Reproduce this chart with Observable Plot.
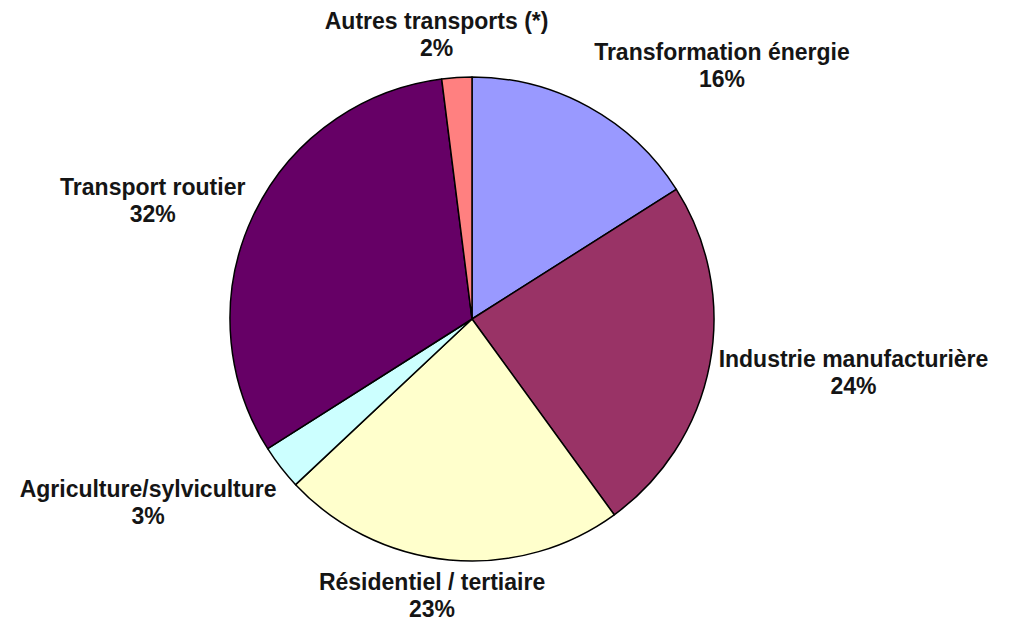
<!DOCTYPE html>
<html><head><meta charset="utf-8">
<script src="https://cdn.jsdelivr.net/npm/d3@7"></script>
<script src="https://cdn.jsdelivr.net/npm/@observablehq/plot@0.6"></script>
<style>html,body{margin:0;padding:0;background:#fff;} svg{display:block;}</style>
</head><body><div id="chart"></div>
<script>
// ---- data ----
const categories = ["Transformation énergie", "Industrie manufacturière", "Résidentiel / tertiaire", "Agriculture/sylviculture", "Transport routier", "Autres transports (*)"];
const shares = [16, 24, 23, 3, 32, 2];
const sliceColors = ["#9999ff", "#993366", "#ffffcc", "#ccffff", "#660066", "#ff8080"];

// ---- layout ----
const W = 1013, H = 622, cx = 472, cy = 319, R = 242;
const fontSize = 23, lineGap = 27;
const labelGap = 11;
const fontFamily = "'Liberation Sans', Arial, sans-serif";
const labelNudge = {
  "Transformation énergie": [66, -9],
  "Autres transports (*)": [-13, -6],
  "Transport routier": [-7, 0],
  "Agriculture/sylviculture": [-23, 11],
  "Résidentiel / tertiaire": [-6, -3]
};

const color = Plot.scale({color: {type: "ordinal", domain: categories, range: sliceColors}});
const rows = categories.map((c, i) => ({category: c, share: shares[i]}));
const arcs = d3.pie().value(d => d.share).sort(null)(rows);

const ctx = document.createElement("canvas").getContext("2d");
ctx.font = `bold ${fontSize}px ${fontFamily}`;

const labels = arcs.map(a => {
  const t = (a.startAngle + a.endAngle) / 2;
  const name = a.data.category;
  const txt = `${a.data.share}%`;
  const w = Math.max(ctx.measureText(name).width, ctx.measureText(txt).width);
  const h = lineGap * 2;
  const [nx, ny] = labelNudge[name] || [0, 0];
  const px = Math.sin(t) * (R + labelGap + w / 2) + nx;
  const py = -Math.cos(t) * (R + labelGap + h / 2) + ny;
  return {category: name, share: a.data.share, x: px / R, y: -py / R};
});

function pieMark(index, scales) {
  const x0 = scales.x(0), y0 = scales.y(0), r = scales.x(1) - scales.x(0);
  const arc = d3.arc().innerRadius(0).outerRadius(r);
  const g = d3.create("svg:g").attr("transform", `translate(${x0},${y0})`);
  g.selectAll("path").data(arcs).join("path")
    .attr("d", arc)
    .attr("fill", d => color.apply(d.data.category))
    .attr("stroke", "#000")
    .attr("stroke-width", 1.5)
    .attr("stroke-linejoin", "round");
  return g.node();
}

const chart = Plot.plot({
  width: W, height: H,
  marginLeft: cx - R, marginRight: W - (cx + R),
  marginTop: cy - R, marginBottom: H - (cy + R),
  x: {domain: [-1, 1], axis: null},
  y: {domain: [-1, 1], axis: null},
  style: {background: "#fff", fontFamily, overflow: "visible"},
  marks: [
    pieMark,
    Plot.text(labels, {
      x: "x", y: "y",
      text: d => `${d.category}\n${d.share}%`,
      fontSize, fontWeight: "bold", fontFamily,
      lineHeight: lineGap / fontSize,
      textAnchor: "middle", lineAnchor: "middle",
      fill: "#151515"
    })
  ]
});
document.getElementById("chart").appendChild(chart);
</script>
</body></html>
